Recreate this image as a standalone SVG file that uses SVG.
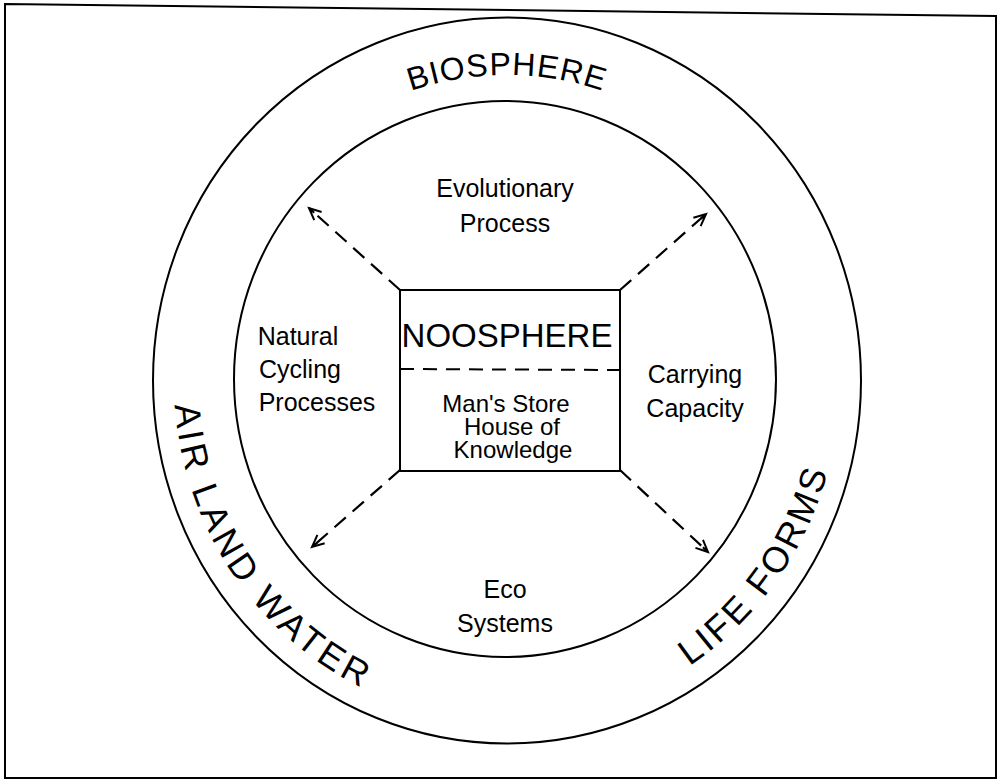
<svg xmlns="http://www.w3.org/2000/svg" width="998" height="783" viewBox="0 0 998 783">
<style>
.ln{fill:none;stroke:#000;stroke-width:2}
.lbl{font-family:"Liberation Sans",Arial,sans-serif;font-size:25px;fill:#000;text-anchor:middle}
.box{font-family:"Liberation Sans",Arial,sans-serif;font-size:24px;fill:#000;text-anchor:middle}
.big{font-family:"Liberation Sans",Arial,sans-serif;fill:#000}
.arr{fill:none;stroke:#000;stroke-width:2.2;stroke-dasharray:15 9;marker-end:url(#ah)}
</style>
<defs>
<marker id="ah" markerWidth="16" markerHeight="14" refX="13" refY="7" orient="auto" markerUnits="userSpaceOnUse">
<path d="M1,1.5 L13,7 L1,12.5 M13,7 L6,7" fill="none" stroke="#000" stroke-width="2"/>
</marker>
<path id="pBio" d="M207,380 A300,305 0 0 1 807,380"/>
<path id="pAir" d="M316,99.8 A333,342 0 0 0 698,660.2"/>
<path id="pLife" d="M308.5,654.6 A333,342 0 0 0 705.5,105.4"/>
</defs>
<rect width="998" height="783" fill="#fff"/>
<g id="frame">
<polygon class="ln" points="5,4 996,16 996,778 5,778" stroke-width="2.5"/>
</g>
<g id="biosphere">
<ellipse class="ln" cx="507" cy="380.5" rx="354" ry="363"/>
<text class="big" font-size="32" letter-spacing="1"><textPath href="#pBio" startOffset="50%" text-anchor="middle">BIOSPHERE</textPath></text>
<text class="big" font-size="36" letter-spacing="4"><textPath href="#pAir" startOffset="50%" text-anchor="middle">AIR LAND WATER</textPath></text>
<text class="big" font-size="36" letter-spacing="3"><textPath href="#pLife" startOffset="50%" text-anchor="middle">LIFE FORMS</textPath></text>
</g>
<g id="inner-circle">
<ellipse class="ln" cx="505" cy="379" rx="271" ry="278"/>
</g>
<g id="evolutionary">
<text class="lbl" x="505" y="197">Evolutionary</text>
<text class="lbl" x="505" y="232">Process</text>
</g>
<g id="natural-cycling">
<text class="lbl" x="298" y="345">Natural</text>
<text class="lbl" x="300" y="378">Cycling</text>
<text class="lbl" x="317" y="411">Processes</text>
</g>
<g id="carrying">
<text class="lbl" x="695" y="383">Carrying</text>
<text class="lbl" x="695" y="417">Capacity</text>
</g>
<g id="eco">
<text class="lbl" x="505" y="598">Eco</text>
<text class="lbl" x="505" y="632">Systems</text>
</g>
<g id="noosphere">
<rect class="ln" x="400" y="290" width="220" height="181" stroke-width="2.5"/>
<line x1="400" y1="369" x2="620" y2="370" stroke="#000" stroke-width="2" stroke-dasharray="14 9"/>
<text class="big" x="507" y="347" font-size="33" text-anchor="middle">NOOSPHERE</text>
<text class="box" x="506" y="412">Man's Store</text>
<text class="box" x="512" y="435">House of</text>
<text class="box" x="513" y="458">Knowledge</text>
</g>
<g id="connectors">
<line class="arr" x1="400" y1="290" x2="309" y2="208"/>
<line class="arr" x1="620" y1="290" x2="706" y2="214"/>
<line class="arr" x1="400" y1="470" x2="312" y2="547"/>
<line class="arr" x1="620" y1="470" x2="708" y2="552"/>
</g>
</svg>
